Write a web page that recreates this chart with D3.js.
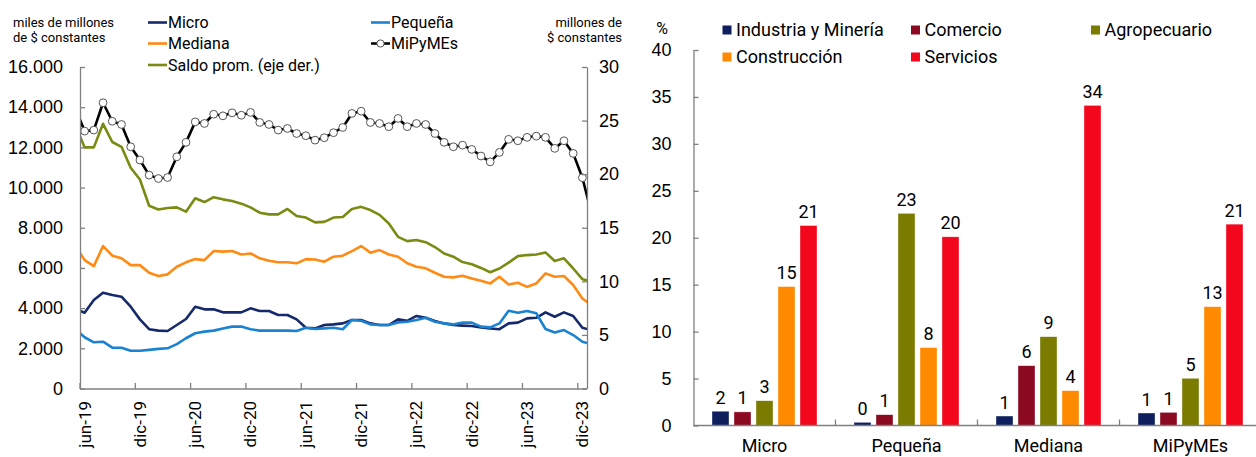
<!DOCTYPE html>
<html>
<head>
<meta charset="utf-8">
<script src="https://cdn.jsdelivr.net/npm/d3@7"></script>
<style>
  body { margin: 0; background: #fff; }
  svg { display: block; font-family: Roboto, "Liberation Sans", sans-serif; }
</style>
</head>
<body>
<script>
// ---- datos panel izquierdo: may-19 .. ene-24 (el primer y el último mes quedan cortados por los ejes)
var mesAbr = ["ene", "feb", "mar", "abr", "may", "jun", "jul", "ago", "sep", "oct", "nov", "dic"];
var meses = d3.timeMonth.range(new Date(2019, 4, 1), new Date(2024, 1, 1))
    .map(function (d) { return mesAbr[d.getMonth()] + "-" + String(d.getFullYear()).slice(2); });

var etiquetasX = ["jun-19", "dic-19", "jun-20", "dic-20", "jun-21", "dic-21", "jun-22", "dic-22", "jun-23", "dic-23"];

var micro = [3950, 3770, 4400, 4770, 4650, 4570, 4070, 3440, 2950, 2880, 2860, 3160, 3460, 4070, 3940,
    3940, 3790, 3790, 3790, 3990, 3860, 3860, 3660, 3660, 3440, 3020, 2990, 3160, 3190, 3240,
    3410, 3410, 3240, 3160, 3160, 3440, 3370, 3610, 3520, 3360, 3240, 3160, 3130, 3110, 3040,
    2990, 2950, 3240, 3280, 3490, 3520, 3790, 3570, 3790, 3610, 3020, 2900];
var pequena = [2950, 2550, 2300, 2330, 2030, 2030, 1880, 1880, 1920, 1970, 2000, 2210, 2500, 2750, 2830,
    2880, 2990, 3080, 3080, 2950, 2880, 2880, 2880, 2880, 2860, 3020, 2960, 2990, 3020, 2950,
    3410, 3370, 3190, 3160, 3160, 3290, 3320, 3410, 3520, 3320, 3240, 3190, 3280, 3280, 3080,
    3040, 3240, 3870, 3770, 3860, 3740, 2960, 2790, 2910, 2660, 2330, 2200];
var mediana = [7100, 6390, 6090, 7090, 6610, 6480, 6140, 6140, 5760, 5600, 5680, 6060, 6280, 6440, 6390,
    6840, 6810, 6840, 6670, 6720, 6480, 6360, 6280, 6280, 6230, 6440, 6420, 6310, 6560, 6610,
    6840, 7090, 6760, 6890, 6670, 6560, 6230, 6060, 5980, 5760, 5560, 5530, 5610, 5480, 5360,
    5230, 5560, 5180, 5260, 5060, 5230, 5730, 5560, 5600, 5150, 4480, 4150];
var mipymes = [13950, 12810, 12860, 14220, 13300, 13140, 12030, 11370, 10620, 10450, 10500, 11530, 12250, 13270, 13190,
    13650, 13570, 13720, 13600, 13740, 13240, 13140, 12860, 12940, 12690, 12580, 12360, 12480, 12730, 12990,
    13690, 13800, 13240, 13190, 13030, 13440, 13030, 13190, 13140, 12690, 12250, 12030, 12110, 11900, 11570,
    11280, 11750, 12400, 12330, 12500, 12560, 12500, 11950, 12330, 11700, 10490, 8700];
var saldoProm = [24.6, 22.5, 22.5, 24.7, 23.0, 22.55, 20.6, 19.5, 17.05, 16.7, 16.85, 16.9, 16.5, 17.75, 17.4,
    17.85, 17.65, 17.5, 17.25, 16.9, 16.4, 16.25, 16.25, 16.75, 16.1, 15.95, 15.5, 15.55, 15.95, 16.0,
    16.75, 16.95, 16.65, 16.2, 15.4, 14.15, 13.75, 13.85, 13.65, 13.2, 12.6, 12.3, 11.8, 11.6, 11.25,
    10.85, 11.2, 11.75, 12.35, 12.45, 12.5, 12.7, 11.9, 12.15, 11.2, 10.2, 10.0];

// ---- datos panel derecho (%)
var grupos = ["Micro", "Pequeña", "Mediana", "MiPyMEs"];
var sectores = ["Industria y Minería", "Comercio", "Agropecuario", "Construcción", "Servicios"];
var industria = [1.52, 0.34, 1.01, 1.33];
var comercio = [1.45, 1.15, 6.37, 1.40];
var agropecuario = [2.64, 22.6, 9.46, 5.03];
var construccion = [14.8, 8.3, 3.71, 12.66];
var servicios = [21.3, 20.1, 34.1, 21.45];

var es = d3.formatLocale({decimal: ",", thousands: ".", grouping: [3], currency: ["$", ""]});
var fmtMiles = es.format(",.0f");

var gris = "#808080";

var svg = d3.select("body").append("svg")
    .attr("width", 1256)
    .attr("height", 457);

/* ================= panel izquierdo ================= */
var x = d3.scaleLinear().domain([0, 55]).range([80, 587]);   // 55 meses jun-19..dic-23
var yIzq = d3.scaleLinear().domain([0, 16000]).range([388.5, 67]);
var yDer = d3.scaleLinear().domain([0, 30]).range([388.5, 67]);

// posición del mes i de "meses" (centro de la categoría)
function xm(i) { return x(i - 0.5); }

svg.append("defs").append("clipPath").attr("id", "clipIzq")
    .append("rect").attr("x", 80).attr("y", 0).attr("width", 507).attr("height", 389);

var series = [
    {nombre: "Micro", datos: micro, color: "#16296a", y: yIzq},
    {nombre: "Pequeña", datos: pequena, color: "#1b82d1", y: yIzq},
    {nombre: "Mediana", datos: mediana, color: "#ff8a14", y: yIzq},
    {nombre: "MiPyMEs", datos: mipymes, color: "#000", y: yIzq},
    {nombre: "Saldo prom. (eje der.)", datos: saldoProm, color: "#7b8a12", y: yDer}
];

var gLineas = svg.append("g").attr("clip-path", "url(#clipIzq)");

series.forEach(function (s) {
    var linea = d3.line()
        .x(function (d, i) { return xm(i); })
        .y(function (d) { return s.y(d); });
    gLineas.append("path")
        .datum(s.datos)
        .attr("d", linea)
        .attr("fill", "none")
        .attr("stroke", s.color)
        .attr("stroke-width", 2.6)
        .attr("stroke-linejoin", "round");
    if (s.nombre === "MiPyMEs") {
        gLineas.selectAll("circle.mk")
            .data(s.datos)
            .enter().append("circle")
            .attr("class", "mk")
            .attr("cx", function (d, i) { return xm(i); })
            .attr("cy", function (d) { return yIzq(d); })
            .attr("r", 3.9)
            .attr("fill", "#fff")
            .attr("stroke", "#555")
            .attr("stroke-width", 1);
    }
});

// ejes
function estiloEje(g, size) {
    g.select(".domain").attr("stroke", gris).attr("stroke-width", 1.3);
    g.selectAll(".tick line").attr("stroke", gris).attr("stroke-width", 1.3);
    g.selectAll(".tick text").attr("fill", "#000").style("font-size", size + "px");
}

svg.append("g")
    .attr("transform", "translate(80,0)")
    .call(d3.axisLeft(yIzq).tickValues(d3.range(0, 16001, 2000)).tickFormat(fmtMiles)
        .tickSizeInner(-5).tickSizeOuter(0).tickPadding(17))
    .call(estiloEje, 18);

svg.append("g")
    .attr("transform", "translate(587,0)")
    .call(d3.axisRight(yDer).tickValues(d3.range(0, 31, 5))
        .tickSizeInner(-5).tickSizeOuter(0).tickPadding(12))
    .call(estiloEje, 18);

var gX = svg.append("g");
gX.append("line")
    .attr("x1", 80).attr("x2", 587).attr("y1", 389).attr("y2", 389)
    .attr("stroke", gris).attr("stroke-width", 1.3);
gX.selectAll("line.tk")
    .data(etiquetasX)
    .enter().append("line")
    .attr("class", "tk")
    .attr("x1", function (d) { return xm(meses.indexOf(d)) - (x(1) - x(0)) / 2; })
    .attr("x2", function (d) { return xm(meses.indexOf(d)) - (x(1) - x(0)) / 2; })
    .attr("y1", 389).attr("y2", 383)
    .attr("stroke", gris).attr("stroke-width", 1.3);
gX.selectAll("text")
    .data(etiquetasX)
    .enter().append("text")
    .attr("transform", function (d) { return "translate(" + xm(meses.indexOf(d)) + ",401) rotate(-90)"; })
    .attr("dy", "0.35em")
    .attr("text-anchor", "end")
    .style("font-size", "17px")
    .text(function (d) { return d; });

// unidades
var unidades = svg.append("g").style("font-size", "13px").attr("fill", "#000");
unidades.append("text").attr("x", 13).attr("y", 27).text("miles de millones");
unidades.append("text").attr("x", 13).attr("y", 42).text("de $ constantes");
unidades.append("text").attr("x", 622).attr("y", 27).attr("text-anchor", "end").text("millones de");
unidades.append("text").attr("x", 622).attr("y", 42).attr("text-anchor", "end").text("$ constantes");

// leyenda
var posLeyenda = {
    "Micro": [148, 22.5], "Mediana": [148, 43.5], "Saldo prom. (eje der.)": [148, 65],
    "Pequeña": [371, 22.5], "MiPyMEs": [371, 43.5]
};
var gLey = svg.append("g").style("font-size", "16px");
series.forEach(function (s) {
    var p = posLeyenda[s.nombre];
    var it = gLey.append("g").attr("transform", "translate(" + p[0] + "," + p[1] + ")");
    it.append("line").attr("x1", 0).attr("x2", 19).attr("stroke", s.color).attr("stroke-width", 2.6);
    if (s.nombre === "MiPyMEs") {
        it.append("circle").attr("cx", 9.5).attr("r", 3.6)
            .attr("fill", "#fff").attr("stroke", "#555").attr("stroke-width", 1);
    }
    it.append("text").attr("x", 20).attr("dy", "0.36em").text(s.nombre);
});

/* ================= panel derecho ================= */
var valores = [industria, comercio, agropecuario, construccion, servicios];
var colores = ["#0f1f5e", "#8b0a22", "#7b7b00", "#ff8a00", "#f2071d"];

var x0 = d3.scaleBand().domain(grupos).range([693.5, 1261.5]);
var x1 = d3.scaleBand().domain(sectores).range([18.5, 123.5]).paddingInner(5 / 22);
var yB = d3.scaleLinear().domain([0, 40]).range([425.5, 50]);

var filas = [];
grupos.forEach(function (g, gi) {
    sectores.forEach(function (s, si) {
        filas.push({grupo: g, sector: s, valor: valores[si][gi], color: colores[si]});
    });
});

var gBar = svg.append("g");
gBar.selectAll("rect")
    .data(filas)
    .enter().append("rect")
    .attr("x", function (d) { return x0(d.grupo) + x1(d.sector); })
    .attr("y", function (d) { return yB(d.valor); })
    .attr("width", x1.bandwidth())
    .attr("height", function (d) { return yB(0) - yB(d.valor); })
    .attr("fill", function (d) { return d.color; })
    .attr("stroke", "#fff")
    .attr("stroke-opacity", 0.6)
    .attr("stroke-width", 0.6);

gBar.selectAll("text")
    .data(filas)
    .enter().append("text")
    .attr("x", function (d) { return x0(d.grupo) + x1(d.sector) + x1.bandwidth() / 2; })
    .attr("y", function (d) { return yB(d.valor) - 7.5; })
    .attr("text-anchor", "middle")
    .style("font-size", "18px")
    .text(function (d) { return d3.format(".0f")(d.valor); });

svg.append("g")
    .attr("transform", "translate(693.5,0)")
    .call(d3.axisLeft(yB).tickValues(d3.range(0, 41, 5))
        .tickSizeInner(-5).tickSizeOuter(0).tickPadding(22))
    .call(estiloEje, 18);

var gXB = svg.append("g");
gXB.append("line")
    .attr("x1", 693.5).attr("x2", 1256).attr("y1", 425.5).attr("y2", 425.5)
    .attr("stroke", gris).attr("stroke-width", 1.3);
gXB.selectAll("line.tk")
    .data(grupos.slice(1))
    .enter().append("line")
    .attr("class", "tk")
    .attr("x1", function (d) { return x0(d); })
    .attr("x2", function (d) { return x0(d); })
    .attr("y1", 425.5).attr("y2", 419.5)
    .attr("stroke", gris).attr("stroke-width", 1.3);
gXB.selectAll("text")
    .data(grupos)
    .enter().append("text")
    .attr("x", function (d) { return x0(d) + x0.bandwidth() / 2; })
    .attr("y", 452)
    .attr("text-anchor", "middle")
    .style("font-size", "18px")
    .text(function (d) { return d; });

svg.append("text")
    .attr("x", 662).attr("y", 28).attr("dy", "0.35em")
    .attr("text-anchor", "middle")
    .style("font-size", "16px")
    .text("%");

// leyenda derecha
var posLeyB = [[722.5, 30], [911, 30], [1091, 30], [722.5, 57], [911, 57]];
var gLeyB = svg.append("g").style("font-size", "18px");
sectores.forEach(function (s, i) {
    var it = gLeyB.append("g").attr("transform", "translate(" + posLeyB[i][0] + "," + posLeyB[i][1] + ")");
    it.append("rect").attr("x", 0).attr("y", -4.5).attr("width", 9).attr("height", 9).attr("fill", colores[i]);
    it.append("text").attr("x", 13.5).attr("dy", "0.35em").text(s);
});
</script>
</body>
</html>
